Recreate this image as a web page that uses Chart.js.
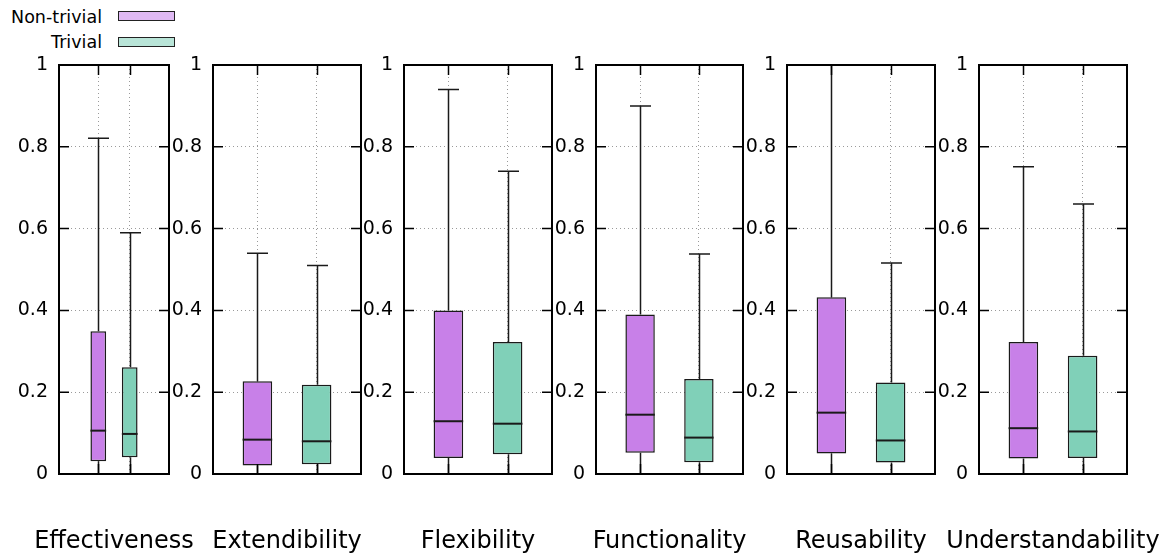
<!DOCTYPE html>
<html><head><meta charset="utf-8">
<script src="https://cdn.jsdelivr.net/npm/chart.js@4.4.1/dist/chart.umd.min.js"></script>
<style>
html,body{margin:0;padding:0;background:#fff;}
#wrap{position:relative;width:1176px;height:554px;overflow:hidden;background:#fff;}
#wrap canvas{position:absolute;left:0;top:0;}
.legtext{position:absolute;right:1074px;font-family:'DejaVu Sans',sans-serif;font-size:17.5px;line-height:20px;color:#000;white-space:nowrap;text-align:right;}
.legbox{position:absolute;left:118px;width:55px;height:8px;border:1px solid #222;}
.cattitle{position:absolute;top:526px;width:300px;text-align:center;font-family:'DejaVu Sans',sans-serif;font-size:24px;line-height:28px;color:#000;white-space:nowrap;}
</style></head>
<body><div id="wrap">
<div class="legtext" style="top:7px">Non-trivial</div>
<div class="legbox" style="top:11px;background:#dfb9f3"></div>
<div class="legtext" style="top:32px">Trivial</div>
<div class="legbox" style="top:37px;background:#b9e5d8"></div>
</div>
<script>
// ---- data ----
const categories = ['Effectiveness','Extendibility','Flexibility','Functionality','Reusability','Understandability'];
const seriesNames = ['Non-trivial','Trivial'];
const ntMin = [0, 0, 0, 0, 0, 0];
const ntQ1  = [0.031, 0.021, 0.039, 0.052, 0.050, 0.038];
const ntMed = [0.106, 0.084, 0.129, 0.145, 0.150, 0.112];
const ntQ3  = [0.349, 0.227, 0.400, 0.390, 0.432, 0.323];
const ntMax = [0.821, 0.540, 0.940, 0.900, 1.000, 0.751];
const tMin  = [0, 0, 0, 0, 0, 0];
const tQ1   = [0.041, 0.024, 0.048, 0.029, 0.028, 0.039];
const tMed  = [0.098, 0.080, 0.123, 0.089, 0.082, 0.104];
const tQ3   = [0.261, 0.218, 0.323, 0.232, 0.224, 0.289];
const tMax  = [0.590, 0.510, 0.740, 0.538, 0.516, 0.660];
const yTicks = [0, 0.2, 0.4, 0.6, 0.8, 1];

// ---- layout / style ----
const panelLeft  = [59, 213, 404, 596, 787, 979];
const panelRight = [169, 361, 552, 743, 935, 1127];
const xMin = [-0.25, 0.25, 0.25, 0.25, 0.25, 0.25];
const xMax = [3.25, 2.75, 2.75, 2.75, 2.75, 2.75];
const boxColors = ['#c880e8', '#80d0b8'];
const W = 1176, H = 554, TOP = 65, XAXIS_H = 80, YAXIS_W = 50;

const stats = [
  {min: ntMin, q1: ntQ1, med: ntMed, q3: ntQ3, max: ntMax},
  {min: tMin, q1: tQ1, med: tMed, q3: tQ3, max: tMax}
];

const boxPlugin = {
  id: 'boxWhisk',
  afterDatasetsDraw(chart) {
    const ctx = chart.ctx, ys = chart.scales.y;
    const p = chart.options.plugins.boxWhisk.panel;
    ctx.save();
    chart.data.datasets.forEach((ds, di) => {
      const meta = chart.getDatasetMeta(di);
      const s = stats[di];
      meta.data.forEach((bar) => {
        const x = Math.round(bar.x) + 0.5;
        const half = bar.width / 2;
        const yMin = ys.getPixelForValue(s.min[p]);
        const yQ1 = ys.getPixelForValue(s.q1[p]);
        const yQ3 = ys.getPixelForValue(s.q3[p]);
        const yMax = ys.getPixelForValue(s.max[p]);
        const yMed = ys.getPixelForValue(s.med[p]);
        ctx.strokeStyle = '#1a1a1a';
        ctx.lineWidth = 1.5;
        ctx.beginPath();
        ctx.moveTo(x, yMin); ctx.lineTo(x, yQ1);
        ctx.moveTo(x, yQ3); ctx.lineTo(x, yMax);
        ctx.moveTo(x - 10.5, yMax); ctx.lineTo(x + 10.5, yMax);
        ctx.moveTo(x - 10.5, yMin); ctx.lineTo(x + 10.5, yMin);
        ctx.stroke();
        ctx.lineWidth = 2;
        ctx.beginPath();
        ctx.moveTo(bar.x - half, yMed); ctx.lineTo(bar.x + half, yMed);
        ctx.stroke();
      });
    });
    ctx.restore();
  },
  afterDraw(chart) {
    const ctx = chart.ctx;
    const {left, right, top, bottom} = chart.chartArea;
    ctx.save();
    ctx.strokeStyle = '#000';
    ctx.lineWidth = 1.5;
    ctx.beginPath();
    chart.scales.y.ticks.forEach(t => {
      const py = chart.scales.y.getPixelForValue(t.value);
      ctx.moveTo(left, py); ctx.lineTo(left + 10, py);
      ctx.moveTo(right, py); ctx.lineTo(right - 10, py);
    });
    chart.scales.x.ticks.forEach(t => {
      const px = Math.round(chart.scales.x.getPixelForValue(t.value)) + 0.5;
      ctx.moveTo(px, bottom); ctx.lineTo(px, bottom - 10);
      ctx.moveTo(px, top); ctx.lineTo(px, top + 10);
    });
    ctx.stroke();
    ctx.lineWidth = 2;
    ctx.strokeRect(left, top, right - left, bottom - top);
    ctx.restore();
  }
};

const wrap = document.getElementById('wrap');
categories.forEach((cat, p) => {
  const cv = document.createElement('canvas');
  cv.width = W; cv.height = H;
  cv.style.width = W + 'px'; cv.style.height = H + 'px';
  wrap.appendChild(cv);
  const chart = new Chart(cv.getContext('2d'), {
    type: 'bar',
    data: {
      datasets: seriesNames.map((name, si) => ({
        label: name,
        data: [{x: si + 1, y: [stats[si].q1[p], stats[si].q3[p]]}],
        backgroundColor: boxColors[si],
        borderColor: '#1a1a1a',
        borderWidth: 1.5,
        borderSkipped: false,
        grouped: false,
        categoryPercentage: 1,
        barPercentage: 0.5
      }))
    },
    options: {
      responsive: false,
      devicePixelRatio: 1,
      animation: false,
      events: [],
      layout: {padding: {left: panelLeft[p] - YAXIS_W, right: W - panelRight[p], top: TOP, bottom: 0}},
      plugins: {legend: {display: false}, tooltip: {enabled: false}, boxWhisk: {panel: p}},
      scales: {
        x: {
          type: 'linear', offset: false, min: xMin[p], max: xMax[p],
          afterBuildTicks: s => { s.ticks = seriesNames.map((n, i) => ({value: i + 1})); },
          afterFit: s => { s.height = XAXIS_H; },
          ticks: {display: false},
          grid: {offset: false, drawTicks: false, color: '#9a9a9a', lineWidth: 1},
          border: {display: false, dash: [1, 3]}
        },
        y: {
          type: 'linear', min: 0, max: 1,
          afterBuildTicks: s => { s.ticks = yTicks.map(v => ({value: v})); },
          afterFit: s => { s.width = YAXIS_W; },
          ticks: {padding: 11, color: '#000', callback: v => String(v),
                  font: {family: "'DejaVu Sans', sans-serif", size: 19}},
          grid: {drawTicks: false, color: '#9a9a9a', lineWidth: 1},
          border: {display: false, dash: [1, 3]}
        }
      }
    },
    plugins: [boxPlugin]
  });
  // category label under the panel, centred on the chart area
  const t = document.createElement('div');
  t.className = 'cattitle';
  t.textContent = cat;
  const ca = chart.chartArea;
  t.style.left = ((ca.left + ca.right) / 2 - 150) + 'px';
  wrap.appendChild(t);
});
</script>
</body></html>
